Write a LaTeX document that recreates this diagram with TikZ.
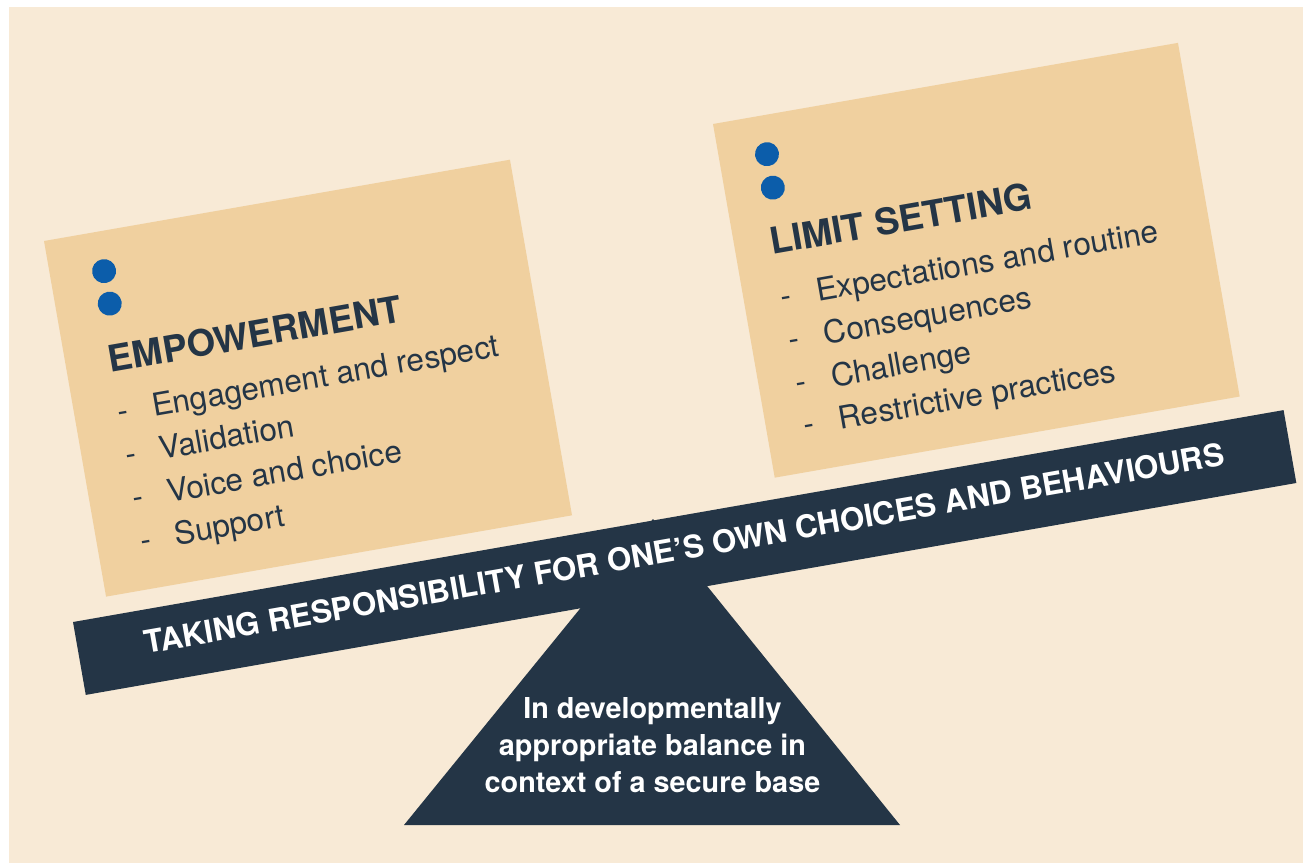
\documentclass[tikz,border=0pt]{standalone}
\usepackage{fontspec}
\setmainfont{TeX Gyre Heros}
\definecolor{bg}{RGB}{248,234,214}
\definecolor{cardfill}{RGB}{240,208,159}
\definecolor{navy}{RGB}{36,53,70}
\definecolor{dotblue}{RGB}{12,93,170}
\begin{document}
\begin{tikzpicture}[x=1pt,y=-1pt,
  cardbox/.style={fill=cardfill},
  dotmark/.style={circle,fill=dotblue,inner sep=0pt,minimum size=24pt},
  heading/.style={anchor=base west,inner sep=0pt,text=navy,font=\fontsize{36.7}{43}\selectfont\bfseries},
  listitem/.style={anchor=base west,inner sep=0pt,text=navy,font=\fontsize{31.5}{40}\selectfont},
  beamtext/.style={anchor=base,inner sep=0pt,text=white,font=\fontsize{31.3}{37}\selectfont\bfseries},
  basetext/.style={anchor=base,inner sep=0pt,text=white,font=\fontsize{28.8}{37}\selectfont\bfseries}]
\useasboundingbox (0,0) rectangle (1308,863);
\fill[bg] (9,7) rectangle (1303,863);

% left card
\begin{scope}[shift={(44,241)},rotate=9.9,transform shape]
  \fill[cardfill] (0,0) rectangle (473,361);
  \node[dotmark] (ld1) at (54,40) {};
  \node[dotmark] (ld2) at (54,73) {};
  \node[heading] (lh) at (43,141) {EMPOWERMENT};
  \node[listitem] (li1) at (43,192) {\makebox[35pt][l]{-}Engagement and respect};
  \node[listitem] (li2) at (43,235.6) {\makebox[35pt][l]{-}Validation};
  \node[listitem] (li3) at (43,279.2) {\makebox[35pt][l]{-}Voice and choice};
  \node[listitem] (li4) at (43,322.8) {\makebox[35pt][l]{-}Support};
\end{scope}

% right card
\begin{scope}[shift={(713,124)},rotate=9.9,transform shape]
  \fill[cardfill] (0,0) rectangle (472,359);
  \node[dotmark] (rd1) at (48,39) {};
  \node[dotmark] (rd2) at (48,73) {};
  \node[heading] (rh) at (36,139) {LIMIT SETTING};
  \node[listitem] (ri1) at (37,193) {\makebox[36pt][l]{-}Expectations and routine};
  \node[listitem] (ri2) at (37,236.4) {\makebox[36pt][l]{-}Consequences};
  \node[listitem] (ri3) at (37,279.8) {\makebox[36pt][l]{-}Challenge};
  \node[listitem] (ri4) at (37,323.2) {\makebox[36pt][l]{-}Restrictive practices};
\end{scope}

% fulcrum
\fill[navy] (653,519) -- (404,825) -- (900,825) -- cycle;
\node[basetext] (b1) at (652.5,718) {In developmentally};
\node[basetext] (b2) at (652.5,755) {appropriate balance in};
\node[basetext] (b3) at (652.5,792) {context of a secure base};

% beam
\begin{scope}[shift={(73,622)},rotate=9.93,transform shape]
  \fill[navy] (0,0) rectangle (1229,74);
  \node[beamtext] (bt) at (614.5,44) {TAKING RESPONSIBILITY FOR ONE’S OWN CHOICES AND BEHAVIOURS};
\end{scope}
\end{tikzpicture}
\end{document}
